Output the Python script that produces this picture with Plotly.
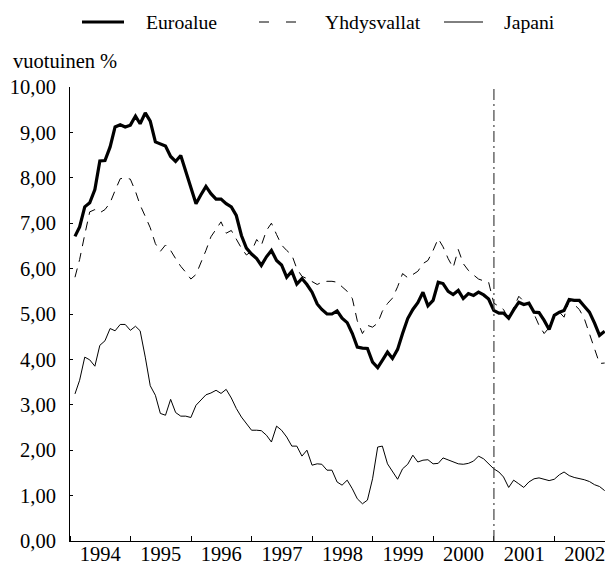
import pandas as pd
import plotly.graph_objects as go

# Monthly 10-year government bond yields, Jan 1994 - Oct 2002 (annual %)
euroalue = [
    6.71, 6.92, 7.36, 7.45, 7.74, 8.37, 8.38, 8.68, 9.12, 9.17, 9.12, 9.16,
    9.36, 9.19, 9.43, 9.25, 8.79, 8.75, 8.70, 8.47, 8.36, 8.49, 8.14, 7.78,
    7.43, 7.62, 7.81, 7.65, 7.53, 7.53, 7.43, 7.36, 7.17, 6.73, 6.45, 6.32,
    6.22, 6.07, 6.26, 6.40, 6.18, 6.08, 5.81, 5.94, 5.66, 5.78, 5.65, 5.48,
    5.22, 5.10, 5.00, 5.00, 5.07, 4.91, 4.81, 4.57, 4.27, 4.25, 4.24, 3.94,
    3.82, 3.98, 4.16, 4.02, 4.22, 4.57, 4.90, 5.10, 5.25, 5.48, 5.18, 5.30,
    5.70, 5.67, 5.50, 5.43, 5.52, 5.34, 5.45, 5.41, 5.48, 5.42, 5.33, 5.08,
    5.02, 5.02, 4.91, 5.09, 5.26, 5.21, 5.24, 5.04, 5.03, 4.86, 4.66, 4.97,
    5.04, 5.08, 5.32, 5.30, 5.30, 5.17, 5.04, 4.80, 4.53, 4.62,
]
yhdysvallat = [
    5.81, 6.20, 6.75, 7.25, 7.30, 7.23, 7.30, 7.45, 7.72, 7.98, 8.00, 7.97,
    7.70, 7.40, 7.15, 6.90, 6.55, 6.38, 6.52, 6.40, 6.22, 6.05, 5.92, 5.77,
    5.87, 6.12, 6.40, 6.70, 6.88, 7.03, 6.78, 6.84, 6.65, 6.45, 6.30, 6.38,
    6.64, 6.51, 6.84, 7.00, 6.75, 6.52, 6.40, 6.30, 6.00, 5.83, 5.78, 5.72,
    5.65, 5.70, 5.72, 5.72, 5.70, 5.60, 5.50, 5.34, 4.85, 4.57, 4.75, 4.71,
    4.80, 5.06, 5.23, 5.35, 5.60, 5.89, 5.80, 5.87, 5.94, 6.11, 6.18, 6.40,
    6.66, 6.48, 6.22, 6.02, 6.42, 6.11, 5.96, 5.86, 5.77, 5.73, 5.70, 5.24,
    5.16, 5.10, 4.89, 5.14, 5.39, 5.28, 5.24, 5.00, 4.75, 4.57, 4.70, 4.98,
    5.04, 4.93, 5.30, 5.21, 5.10, 4.90, 4.55, 4.20, 3.91, 3.92,
]
japani = [
    3.24, 3.54, 4.05, 3.99, 3.85, 4.31, 4.41, 4.68, 4.63, 4.77, 4.77, 4.64,
    4.73, 4.63, 4.05, 3.42, 3.21, 2.81, 2.77, 3.12, 2.83, 2.75, 2.75, 2.72,
    2.99, 3.10, 3.22, 3.26, 3.32, 3.25, 3.34, 3.15, 2.92, 2.73, 2.58, 2.44,
    2.44, 2.43, 2.33, 2.18, 2.53, 2.44, 2.29, 2.09, 2.09, 1.87, 2.00, 1.67,
    1.70, 1.69, 1.56, 1.56, 1.30, 1.23, 1.34, 1.15, 0.93, 0.82, 0.90, 1.37,
    2.07, 2.09, 1.70, 1.52, 1.36, 1.59, 1.69, 1.89, 1.74, 1.78, 1.79, 1.70,
    1.71, 1.83, 1.79, 1.74, 1.70, 1.69, 1.71, 1.76, 1.87, 1.81, 1.70, 1.59,
    1.52, 1.41, 1.18, 1.34, 1.26, 1.18, 1.30, 1.37, 1.39, 1.36, 1.33, 1.36,
    1.46, 1.52, 1.44, 1.40, 1.38, 1.35, 1.31, 1.24, 1.20, 1.11,
]
series_names = ["Euroalue", "Yhdysvallat", "Japani"]
y_ticks = [0, 1, 2, 3, 4, 5, 6, 7, 8, 9, 10]
euro_enlargement = "2001-01-01"

# monthly observations are placed at the end of their month
months = pd.date_range("1994-01-01", periods=len(euroalue), freq="MS")
x_dates = months + pd.offsets.MonthEnd(0)

FONT = "Liberation Serif"
FS_AXIS = 20.5
FS_LEG = 19.7
W, H = 608, 565
ML, MR, MT, MB = 70, 3, 87, 24
PW, PH = W - ML - MR, H - MT - MB


def px(xp):
    return (xp - ML) / PW


def py(yp):
    return (H - MB - yp) / PH


styles = [
    dict(color="black", width=3.2, dash="solid"),
    dict(color="black", width=1, dash="9px,7px"),
    dict(color="black", width=1, dash="solid"),
]

fig = go.Figure()
for name, vals, st in zip(series_names, [euroalue, yhdysvallat, japani], styles):
    fig.add_trace(go.Scatter(
        x=x_dates, y=vals, mode="lines", name=name,
        line=st, showlegend=False, hoverinfo="x+y+name",
    ))

shapes = [
    dict(type="line", xref="x", yref="y", x0=euro_enlargement, x1=euro_enlargement,
         y0=0, y1=10, line=dict(color="#444444", width=1.2, dash="11px,4px,2px,4px")),
]
annotations = [
    dict(text="vuotuinen %", xref="paper", yref="paper", x=px(11), y=py(61),
         xanchor="left", yanchor="middle", showarrow=False,
         font=dict(family=FONT, size=FS_AXIS, color="black")),
]

# legend row drawn above the plot
legend_items = [
    (series_names[0], 82, 124, 144, styles[0], None),
    (series_names[1], 259, 296, 323, styles[1], "10px,17px"),
    (series_names[2], 444, 483, 502, styles[2], None),
]
leg_y = 22
for name, x0, x1, tx, st, dash in legend_items:
    shapes.append(dict(
        type="line", xref="paper", yref="paper",
        x0=px(x0), x1=px(x1), y0=py(leg_y), y1=py(leg_y),
        line=dict(color=st["color"], width=st["width"], dash=dash or "solid"),
    ))
    annotations.append(dict(
        text=name, xref="paper", yref="paper", x=px(tx), y=py(leg_y),
        xanchor="left", yanchor="middle", showarrow=False,
        font=dict(family=FONT, size=FS_LEG, color="black"),
    ))

fig.update_layout(
    width=W, height=H,
    margin=dict(l=ML, r=MR, t=MT, b=MB, pad=0),
    paper_bgcolor="white", plot_bgcolor="white",
    separators=", ",
    font=dict(family=FONT, size=FS_AXIS, color="black"),
    shapes=shapes, annotations=annotations,
    showlegend=False,
    xaxis=dict(
        type="date", range=["1994-01-01", "2002-11-02"],
        tick0="1994-01-01", dtick="M12", tickformat="%Y",
        ticklabelmode="period",
        ticks="inside", ticklen=5, tickcolor="black", tickwidth=1,
        showline=True, linecolor="black", linewidth=1,
        showgrid=False, zeroline=False, automargin=False,
        ticklabelstandoff=-6,
        tickfont=dict(family=FONT, size=FS_AXIS, color="black"),
    ),
    yaxis=dict(
        range=[0, 10], tickvals=y_ticks, tickformat=".2f",
        ticks="inside", ticklen=3, tickcolor="black", tickwidth=1,
        showline=True, linecolor="black", linewidth=1,
        showgrid=False, zeroline=False, automargin=False,
        ticklabelstandoff=9,
        tickfont=dict(family=FONT, size=FS_AXIS, color="black"),
    ),
)

fig.write_html("out.html")
